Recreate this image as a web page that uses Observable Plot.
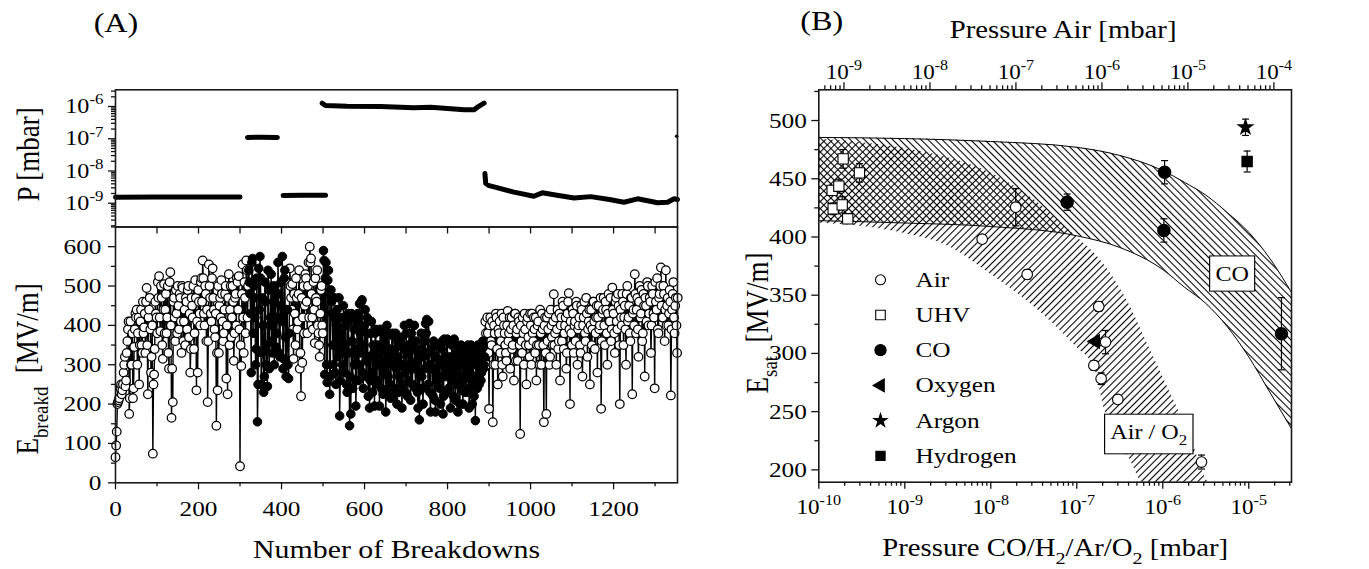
<!DOCTYPE html>
<html><head><meta charset="utf-8">
<script src="https://cdn.jsdelivr.net/npm/d3@7"></script>
<script src="https://cdn.jsdelivr.net/npm/@observablehq/plot@0.6"></script>
<style>
html,body{margin:0;padding:0;background:#fff;}
#wrap{position:relative;width:1369px;height:569px;overflow:hidden;background:#fff;}
#wrap svg{position:absolute;left:0;top:0;max-width:none !important;overflow:visible;background:transparent !important;}
</style></head>
<body><div id="wrap"></div>
<script>
// ================= DATA =================
// Panel A (bottom): breakdown field, values read every 3 breakdowns, two interleaved passes
const breakStep = 3;
const air1Start = 0;
const air1E = [65,130,205,215,240,225,250,300,245,330,
  390,175,410,300,215,345,430,440,380,250,
  410,350,460,395,330,495,225,440,390,320,
  74,275,460,420,510,525,385,470,315,505,
  440,380,500,290,535,165,205,470,360,430,
  500,390,470,330,495,410,350,460,490,370,
  280,470,420,340,515,235,280,460,400,520,
  565,430,500,360,205,555,470,410,545,440,
  370,145,235,330,470,515,410,380,480,265,
  225,530,440,370,500,310,470,400,510,525,
  42,297,555,330,470,565,420];
const air1bStart = 1.5;
const air1bE = [95,200,210,230,250,235,280,320,260,360,
  410,215,300,380,240,390,420,300,420,350,
  440,330,380,430,460,350,420,470,280,400,
  250,340,430,380,470,420,500,350,440,380,
  480,420,330,510,400,290,460,420,490,380,
  450,480,410,500,360,440,470,390,500,430,
  340,450,500,380,470,410,490,430,510,460,
  520,400,480,440,360,500,430,520,470,390,
  430,330,500,450,420,480,360,440,500,400,
  470,350,500,420,460,380,480,520,440,390,
  350,480,420,510,380,540,500];
const co1Start = 321;
const co1E = [540,480,280,570,500,420,340,155,545,575,
  250,470,230,510,300,245,490,400,530,330,
  460,500,345,420,480,320,510,575,315,540,
  270,440,265];
const co1bStart = 322.5;
const co1bE = [510,430,560,380,470,300,520,250,440,520,
  330,400,270,460,350,540,290,420,360,500,
  300,480,380,560,330,450,410,290,520,370,
  440,300,380];
const air2Start = 420;
const air2E = [545,470,505,315,430,520,390,480,290,220,
  305,500,450,520,380,560,600,570,420,510,
  355,470,540,380,320,490,400];
const air2bStart = 421.5;
const air2bE = [500,440,390,480,350,470,410,540,330,470,
  420,380,530,460,500,420,560,480,390,440,
  520,460,400,350,430,500,380];
const co2Start = 501;
const co2E = [590,275,560,255,540,225,490,430,300,470,
  250,440,380,170,420,330,450,280,400,230,
  430,145,175,360,420,300,195,410,260,455,
  330,465,240,400,310,420,220,190,380,280,
  350,195,390,260,340,195,385,300,225,360,
  180,400,270,340,215,375,300,240,380,200,
  320,270,350,190,300,400,230,330,260,405,
  210,290,360,400,240,310,190,160,340,270,
  200,360,405,415,250,300,180,330,220,290,
  180,350,260,310,200,340,175,365,280,360,
  230,300,190,350,260,365,210,330,180,300,
  250,340,200,320,270,230,350,190,300,260,
  330,220,158,300,350,250,320,280,360,300];
const co2bStart = 502.5;
const co2bE = [565,520,300,515,480,270,460,350,420,280,
  400,320,470,260,380,300,420,350,250,410,
  330,270,430,240,390,340,260,430,300,380,
  460,280,350,440,270,380,320,260,410,230,
  330,380,250,350,300,390,240,340,280,370,
  230,330,380,250,320,380,220,340,290,360,
  230,300,370,250,340,280,380,220,350,300,
  380,250,340,290,360,230,330,280,380,240,
  320,290,380,330,410,230,340,290,360,210,
  320,270,350,240,300,360,220,320,270,365,
  240,320,280,360,220,300,350,250,320,200,
  350,270,310,230,340,280,320,240,350,200,
  310,270,340,240,300,330,260,340,290,320];
const air3Start = 891;
const air3E = [410,300,380,188,420,350,154,400,300,420,
  250,380,330,430,270,400,350,310,437,380,
  290,420,350,260,430,380,310,410,124,360,
  420,300,390,250,420,350,430,300,380,420,
  330,260,400,350,440,300,390,154,420,175,
  360,430,320,400,350,479,380,300,440,360,
  260,420,460,340,400,290,430,482,200,380,
  440,330,410,460,300,400,350,450,270,420,
  380,470,320,410,250,440,390,460,340,420,
  280,450,400,188,430,470,350,440,300,480,
  410,360,496,430,330,470,390,450,200,420,
  480,350,450,300,500,420,380,470,225,440,
  530,380,470,320,500,430,360,480,270,450,
  510,400,470,330,500,430,240,460,520,380,
  480,547,420,500,360,540,450,400,490,222,
  440,510,380,470,330];
const air3bStart = 892.5;
const air3bE = [380,420,330,400,360,410,300,380,430,340,
  390,410,360,300,420,380,330,400,360,420,
  390,340,400,430,310,390,420,350,400,330,
  380,430,350,410,370,320,400,430,360,390,
  420,350,410,300,380,430,350,400,330,420,
  390,300,440,370,410,350,420,390,340,430,
  400,360,450,380,420,330,460,390,410,350,
  430,400,360,450,390,420,330,440,400,460,
  360,430,390,440,400,350,460,410,380,450,
  420,390,470,360,440,400,460,380,430,410,
  470,390,440,380,460,410,480,350,440,400,
  460,420,390,480,410,450,360,470,430,400,
  480,440,390,460,420,490,380,450,470,410,
  500,430,460,400,480,420,510,440,390,470,
  500,450,420,480,440,400,470,430,460,390,
  480,420,450,400,470];

// Panel A (top): pressure record, segments
const pSeg1N = [0, 100, 200, 300];
const pSeg1P = [1.53e-9, 1.55e-9, 1.55e-9, 1.56e-9];
const pSeg2N = [318, 350, 390];
const pSeg2P = [1.1e-7, 1.12e-7, 1.1e-7];
const pSeg3N = [404, 450, 506];
const pSeg3P = [1.72e-9, 1.75e-9, 1.75e-9];
const pSeg4N = [498, 506, 558, 639, 719, 759, 800, 840, 864, 872, 880, 888];
const pSeg4P = [1.27e-6, 1.07e-6, 1.02e-6, 1.0e-6, 9.1e-7, 9.5e-7, 8.6e-7, 7.9e-7, 7.9e-7, 9.5e-7, 1.1e-6, 1.27e-6];
const pSeg5N = [890, 892, 900, 912, 960, 1008, 1028, 1060, 1105, 1145, 1190, 1225, 1258, 1306, 1330, 1346, 1354];
const pSeg5P = [8.3e-9, 4.1e-9, 3.5e-9, 3.2e-9, 2.2e-9, 1.65e-9, 2.1e-9, 1.8e-9, 1.45e-9, 1.6e-9, 1.3e-9, 1.07e-9, 1.37e-9, 1.03e-9, 1.07e-9, 1.37e-9, 1.3e-9];
const pSpikeN = [1352];
const pSpikeP = [1.2e-7];

// Panel B: saturated field vs pressure
const airFactor = 5.1; // Air pressure (top axis) = factor x CO-equivalent pressure
const airP   = [1.95e-8, 7.94e-9, 2.65e-8, 1.80e-7, 2.16e-7, 1.58e-7, 1.92e-7, 3.0e-7, 2.82e-6];
const airE   = [425.6, 398.1, 367.8, 340.3, 309.7, 289.7, 278.3, 260.5, 206.7];
const airErr = [16, 3, 4, 4, 10, 4, 5, 3, 6];
const uhvP   = [1.43e-10, 1.71e-10, 1.92e-10, 2.97e-10, 1.47e-10, 1.87e-10, 2.17e-10];
const uhvE   = [440.0, 443.6, 467.1, 455.1, 424.2, 427.6, 415.6];
const uhvErr = [4, 6, 8, 8, 5, 7, 3];
const coP    = [7.73e-8, 1.05e-6, 1.03e-6, 2.40e-5];
const coE    = [429.9, 455.6, 405.6, 316.9];
const coErr  = [7, 10, 10, 31];
const oxyP = [1.65e-7], oxyE = [310.3], oxyErr = [3];
const argP = [9.16e-6], argE = [494.2], argErr = [7];
const h2P  = [9.57e-6], h2E  = [464.8], h2Err  = [9];

const airBandP    = [1e-10, 3.2e-10, 1e-9, 3.2e-9, 1e-8, 3.2e-8, 1e-7, 1.6e-7, 2.1e-7, 4.2e-7, 6.3e-7, 1e-6, 2.1e-6, 3.2e-6, 3.8e-6];
const airBandLow  = [412, 409, 403, 392, 368, 340, 305, 288, 252, 208, 186, 185, 185, 185, 185];
const airBandHigh = [484, 481, 476, 468, 455, 432, 400, 386, 376, 340, 312, 280, 228, 192, 185];
const coBandP    = [1e-10, 1e-9, 1e-8, 1e-7, 3.16e-7, 1e-6, 1.78e-6, 3.16e-6, 5.62e-6, 1e-5, 1.78e-5, 3.16e-5];
const coBandLow  = [414, 412, 409, 401, 391, 372, 357, 343, 323, 297, 266, 235];
const coBandHigh = [485.5, 484.5, 482, 477, 470, 457, 447, 436, 421, 404, 381, 352];

const boxLabels = ["CO", "Air / O_{2}"];
const boxLabelP = [6.41e-6, 6.87e-7];
const boxLabelE = [368.4, 232.5];

const legendLabels = ["Air", "UHV", "CO", "Oxygen", "Argon", "Hydrogen"];

// ================= BUILD =================
const W = 1369, H = 569, S = 1.15;
const FONT = "'Liberation Serif','Times New Roman',serif";
const baseStyle = {fontFamily: FONT, background: "transparent", overflow: "visible"};
const tickStyle = {stroke: "#111", strokeWidth: 1.3};
const aL = 115, aR = 677, aT = 89.3, aM = 226.5, aB = 482.3;
const bL = 818.3, bR = 1291, bT = 89.3, bB = 481.7;

const seq = (start, vals, g) => vals.map((E, i) => ({n: start + breakStep * i, E, g}));
const breakdowns = [
  ...seq(air1Start, air1E, "air"), ...seq(air1bStart, air1bE, "air"),
  ...seq(co1Start, co1E, "co"), ...seq(co1bStart, co1bE, "co"),
  ...seq(air2Start, air2E, "air"), ...seq(air2bStart, air2bE, "air"),
  ...seq(co2Start, co2E, "co"), ...seq(co2bStart, co2bE, "co"),
  ...seq(air3Start, air3E, "air"), ...seq(air3bStart, air3bE, "air")
].sort((a, b) => a.n - b.n);

const pRows = [[pSeg1N, pSeg1P], [pSeg2N, pSeg2P], [pSeg3N, pSeg3P], [pSeg4N, pSeg4P], [pSeg5N, pSeg5P]]
  .flatMap(([N, P], s) => N.map((n, i) => ({seg: s, n, p: P[i]})));
const spike = pSpikeN.map((n, i) => ({n, p: pSpikeP[i]}));

const rows = (P, E, Er) => P.map((p, i) => ({p, E: E[i], err: Er[i]}));
const airRows = rows(airP, airE, airErr), uhvRows = rows(uhvP, uhvE, uhvErr), coRows = rows(coP, coE, coErr);
const oxyRows = rows(oxyP, oxyE, oxyErr), argRows = rows(argP, argE, argErr), h2Rows = rows(h2P, h2E, h2Err);
const errRows = [...airRows, ...uhvRows, ...coRows, ...argRows, ...h2Rows].filter(d => d.err > 0);
const airBand = airBandP.map((p, i) => ({p, lo: airBandLow[i], hi: airBandHigh[i]}));
const coBand = coBandP.map((p, i) => ({p, lo: coBandLow[i], hi: coBandHigh[i]}));
const boxRows = boxLabels.map((label, i) => ({label, p: boxLabelP[i], E: boxLabelE[i]}));

function logTicks(lo, hi) {
  const major = [], minor = [];
  for (let e = Math.floor(Math.log10(lo)) - 1; e <= Math.ceil(Math.log10(hi)); e++)
    for (let k = 1; k < 10; k++) {
      const v = k * Math.pow(10, e);
      if (v >= lo * 0.9999 && v <= hi * 1.0001) (k === 1 ? major : minor).push(v);
    }
  return {major, minor};
}
const logLabel = v => `10^{${Math.round(Math.log10(v))}}`;

const tB = (vals, len, fh, f = d => d) => Plot.ruleX(vals, {x: f, insetTop: fh - len, dy: len, ...tickStyle});
const tT = (vals, len, fh, f = d => d) => Plot.ruleX(vals, {x: f, insetBottom: fh - len, dy: -len, ...tickStyle});
const tTin = (vals, len, fh) => Plot.ruleX(vals, {x: d => d, insetBottom: fh - len, ...tickStyle});
const tL = (vals, len, fw) => Plot.ruleY(vals, {y: d => d, insetRight: fw - len, dx: -len, ...tickStyle});
const frame = () => Plot.frame({stroke: "#1a1a1a", strokeWidth: 1.6});

// ---- Panel A top ----
const yTopDom = [Math.pow(10, -9.738), Math.pow(10, -5.482)];
const pT = logTicks(yTopDom[0], yTopDom[1]);
const plotATop = Plot.plot({
  width: W, height: H, style: baseStyle,
  marginLeft: aL, marginRight: W - aR, marginTop: aT, marginBottom: H - aM,
  x: {type: "linear", domain: [0, 1354], axis: null},
  y: {type: "log", domain: yTopDom, axis: null},
  marks: [
    Plot.line(pRows, {x: "n", y: "p", z: "seg", stroke: "#000", strokeWidth: 5, strokeLinecap: "round", strokeLinejoin: "round"}),
    Plot.dot(spike, {x: "n", y: "p", r: 1.8, fill: "#000"}),
    frame(),
    tL(pT.major, 7, aR - aL), tL(pT.minor, 4, aR - aL),
    Plot.text(pT.major, {y: d => d, text: logLabel, frameAnchor: "left", textAnchor: "end", dx: -12, fontSize: 21}),
    Plot.text(["P [mbar]"], {text: d => d, frameAnchor: "left", textAnchor: "middle", lineAnchor: "middle", rotate: -90, dx: -86.5, dy: -4, fontSize: 27}),
    Plot.text(["(A)"], {text: d => d, frameAnchor: "top-left", textAnchor: "middle", lineAnchor: "bottom", dx: 0.5, dy: -58, fontSize: 28})
  ]
});

// ---- Panel A bottom ----
const eMajor = [0, 100, 200, 300, 400, 500, 600], eMinor = [50, 150, 250, 350, 450, 550, 650];
const nMajor = [0, 200, 400, 600, 800, 1000, 1200], nMinor = [100, 300, 500, 700, 900, 1100, 1300];
const nTop = [100, 200, 300, 400, 500, 600, 700, 800, 900, 1000, 1100, 1200, 1300];
const plotABot = Plot.plot({
  width: W, height: H, style: baseStyle,
  marginLeft: aL, marginRight: W - aR, marginTop: aM, marginBottom: H - aB,
  x: {type: "linear", domain: [0, 1354], axis: null},
  y: {type: "linear", domain: [0, 650], axis: null},
  marks: [
    Plot.line(breakdowns, {x: "n", y: "E", stroke: "#000", strokeWidth: 1.4}),
    Plot.dot(breakdowns.filter(d => d.g === "air"), {x: "n", y: "E", r: 4.3, fill: "#fff", stroke: "#000", strokeWidth: 1.25}),
    Plot.dot(breakdowns.filter(d => d.g === "co"), {x: "n", y: "E", r: 4.3, fill: "#000", stroke: "#000", strokeWidth: 1}),
    frame(),
    tL(eMajor, 7, aR - aL), tL(eMinor, 4, aR - aL),
    tB(nMajor, 7, aB - aM), tB(nMinor, 4, aB - aM),
    tTin(nTop, 7, aB - aM),
    Plot.text(eMajor, {y: d => d, text: d => String(d), frameAnchor: "left", textAnchor: "end", dx: -14, fontSize: 22}),
    Plot.text(nMajor, {x: d => d, text: d => String(d), frameAnchor: "bottom", lineAnchor: "bottom", dy: 33, fontSize: 22}),
    Plot.text(["Number of Breakdowns"], {text: d => d, frameAnchor: "bottom", textAnchor: "middle", lineAnchor: "bottom", dy: 74.7, fontSize: 26}),
    Plot.text(["E_{breakd}  [MV/m]"], {text: d => d, frameAnchor: "left", textAnchor: "middle", lineAnchor: "middle", rotate: -90, dx: -87, dy: 14, fontSize: 27})
  ]
});

// ---- Panel B ----
const xBDom = [1e-10, Math.pow(10, -4.503)];
const bx = logTicks(xBDom[0], xBDom[1]);
const bxTop = logTicks(xBDom[0] * airFactor, xBDom[1] * airFactor);
const sMajor = [200, 250, 300, 350, 400, 450, 500], sMinor = [225, 275, 325, 375, 425, 475, 525];
const capSymbol = {draw(ctx, size) { const r = Math.sqrt(size / Math.PI); ctx.moveTo(-r, 0); ctx.lineTo(r, 0); }};
const bFW = bR - bL, bFH = bB - bT;
const legendMarks = [];
const legendSym = [
  {symbol: "circle", r: 5, fill: "#fff", stroke: "#000"},
  {symbol: "square", r: 5.4, fill: "#fff", stroke: "#000"},
  {symbol: "circle", r: 5.6, fill: "#000", stroke: "#000"},
  {symbol: "triangle", r: 4.8, fill: "#000", stroke: "#000", rotate: -90},
  {symbol: "star", r: 4.2, fill: "#000", stroke: "#000"},
  {symbol: "square", r: 5.2, fill: "#000", stroke: "#000"}
];
legendLabels.forEach((lab, i) => {
  legendMarks.push(Plot.dot([lab], {frameAnchor: "top-left", dx: 61.7, dy: 190 + 35.2 * i, strokeWidth: 1.1, ...legendSym[i]}));
  legendMarks.push(Plot.text([lab], {text: d => d, frameAnchor: "top-left", textAnchor: "start", lineAnchor: "middle", dx: 96.7, dy: 190 + 35.2 * i, fontSize: 22}));
});

const plotB = Plot.plot({
  width: W, height: H, style: baseStyle,
  marginLeft: bL, marginRight: W - bR, marginTop: bT, marginBottom: H - bB,
  x: {type: "log", domain: xBDom, axis: null},
  y: {type: "linear", domain: [189.4, 526.4], axis: null},
  marks: [
    Plot.areaY(airBand, {x: "p", y1: "lo", y2: "hi", fill: "url(#hatchAir)", curve: "monotone-x", clip: true}),
    Plot.areaY(coBand, {x: "p", y1: "lo", y2: "hi", fill: "url(#hatchCO)", curve: "monotone-x", clip: true}),
    Plot.line(coBand, {x: "p", y: "lo", curve: "monotone-x", stroke: "#000", strokeWidth: 1, clip: true}),
    Plot.line(coBand, {x: "p", y: "hi", curve: "monotone-x", stroke: "#000", strokeWidth: 1, clip: true}),
    Plot.ruleX(errRows, {x: "p", y1: d => d.E - d.err, y2: d => d.E + d.err, stroke: "#000", strokeWidth: 1.2}),
    Plot.dot(errRows, {x: "p", y: d => d.E + d.err, symbol: capSymbol, r: 3.5, fill: "none", stroke: "#000", strokeWidth: 1.2}),
    Plot.dot(errRows, {x: "p", y: d => d.E - d.err, symbol: capSymbol, r: 3.5, fill: "none", stroke: "#000", strokeWidth: 1.2}),
    Plot.dot(uhvRows, {x: "p", y: "E", symbol: "square", r: 5.8, fill: "#fff", stroke: "#000", strokeWidth: 1.1}),
    Plot.dot(coRows, {x: "p", y: "E", r: 6, fill: "#000", stroke: "#000"}),
    Plot.dot(oxyRows, {x: "p", y: "E", symbol: "triangle", rotate: -90, r: 4.8, fill: "#000", stroke: "#000"}),
    Plot.dot(airRows, {x: "p", y: "E", r: 5.3, fill: "#fff", stroke: "#000", strokeWidth: 1.1}),
    Plot.dot(argRows, {x: "p", y: "E", symbol: "star", r: 4.3, fill: "#000", stroke: "#000"}),
    Plot.dot(h2Rows, {x: "p", y: "E", symbol: "square", r: 5.6, fill: "#000", stroke: "#000"}),
    Plot.text(boxRows, {x: "p", y: "E", text: d => "§" + d.label, textAnchor: "middle", lineAnchor: "middle", fontSize: 21}),
    ...legendMarks,
    frame(),
    tL(sMajor, 7, bFW), tL(sMinor, 4, bFW),
    tB(bx.major, 7, bFH), tB(bx.minor, 4, bFH),
    tT(bxTop.major, 7, bFH, d => d / airFactor), tT(bxTop.minor, 4, bFH, d => d / airFactor),
    Plot.text(sMajor, {y: d => d, text: d => String(d), frameAnchor: "left", textAnchor: "end", dx: -12, fontSize: 22}),
    Plot.text(bx.major, {x: d => d, text: logLabel, frameAnchor: "bottom", textAnchor: "middle", lineAnchor: "bottom", dy: 31.5, fontSize: 20}),
    Plot.text(bxTop.major, {x: d => d / airFactor, text: logLabel, frameAnchor: "top", textAnchor: "middle", lineAnchor: "bottom", dy: -11, fontSize: 20}),
    Plot.text(["Pressure CO/H_{2}/Ar/O_{2} [mbar]"], {text: d => d, frameAnchor: "bottom", textAnchor: "middle", lineAnchor: "bottom", dy: 74, fontSize: 25}),
    Plot.text(["Pressure Air [mbar]"], {text: d => d, frameAnchor: "top", textAnchor: "middle", lineAnchor: "bottom", dx: 8, dy: -52, fontSize: 25}),
    Plot.text(["E_{sat}  [MV/m]"], {text: d => d, frameAnchor: "left", textAnchor: "middle", lineAnchor: "middle", rotate: -90, dx: -61, dy: 37, fontSize: 27}),
    Plot.text(["(B)"], {text: d => d, frameAnchor: "top-left", textAnchor: "middle", lineAnchor: "bottom", dx: 3, dy: -60, fontSize: 28})
  ]
});

const wrap = document.getElementById("wrap");
[plotATop, plotABot, plotB].forEach(s => wrap.appendChild(s));

// hatch patterns for the bands
const defs = d3.select(plotB).insert("defs", ":first-child");
function hatch(id, angle) {
  const p = defs.append("pattern").attr("id", id).attr("patternUnits", "userSpaceOnUse")
    .attr("width", 5).attr("height", 5).attr("patternTransform", `rotate(${angle})`);
  p.append("line").attr("x1", 2.5).attr("y1", -1).attr("x2", 2.5).attr("y2", 6)
    .attr("stroke", "#000").attr("stroke-width", 1.1);
}
hatch("hatchAir", 45);
hatch("hatchCO", -45);

// ---- text post-processing: sub/superscripts, stretched lettering, label boxes ----
const NS = "http://www.w3.org/2000/svg";
function richify(svg) {
  svg.querySelectorAll("text").forEach(t => {
    let s = t.textContent;
    if (s.startsWith("§")) { s = s.slice(1); t.setAttribute("data-box", "1"); t.textContent = s; }
    if (!/[_^]\{/.test(s)) return;
    const fs = parseFloat(getComputedStyle(t).fontSize) || 20;
    const parts = []; const re = /([_^])\{([^}]*)\}/g; let last = 0, m;
    while ((m = re.exec(s))) {
      if (m.index > last) parts.push([0, s.slice(last, m.index)]);
      parts.push([m[1] === "_" ? 1 : -1, m[2]]); last = re.lastIndex;
    }
    if (last < s.length) parts.push([0, s.slice(last)]);
    while (t.firstChild) t.removeChild(t.firstChild);
    let shift = 0;
    for (const [mode, str] of parts) {
      const ts = document.createElementNS(NS, "tspan");
      const target = mode === 1 ? 0.3 * fs : mode === -1 ? -0.42 * fs : 0;
      if (target !== shift) ts.setAttribute("dy", (target - shift).toFixed(2));
      shift = target;
      if (mode) ts.setAttribute("font-size", (0.7 * fs).toFixed(1));
      ts.textContent = str;
      t.appendChild(ts);
    }
  });
}
function stretch(svg) {
  svg.querySelectorAll("text").forEach(t => {
    let tr = t.getAttribute("transform");
    if (!tr) {
      const x = parseFloat(t.getAttribute("x")) || 0;
      t.removeAttribute("x");
      tr = `translate(${x},0)`;
    }
    t.setAttribute("transform", tr + (tr.includes("rotate") ? ` scale(1,${S})` : ` scale(${S},1)`));
  });
}
function boxes(svg) {
  svg.querySelectorAll("text[data-box]").forEach(t => {
    const bb = t.getBBox();
    const r = document.createElementNS(NS, "rect");
    r.setAttribute("x", bb.x - 5); r.setAttribute("y", bb.y - 6);
    r.setAttribute("width", bb.width + 10); r.setAttribute("height", bb.height + 12);
    r.setAttribute("transform", t.getAttribute("transform"));
    r.setAttribute("fill", "#fff"); r.setAttribute("stroke", "#000"); r.setAttribute("stroke-width", 1);
    t.parentNode.insertBefore(r, t);
  });
}
[plotATop, plotABot, plotB].forEach(svg => { richify(svg); stretch(svg); boxes(svg); });
</script>
</body></html>
